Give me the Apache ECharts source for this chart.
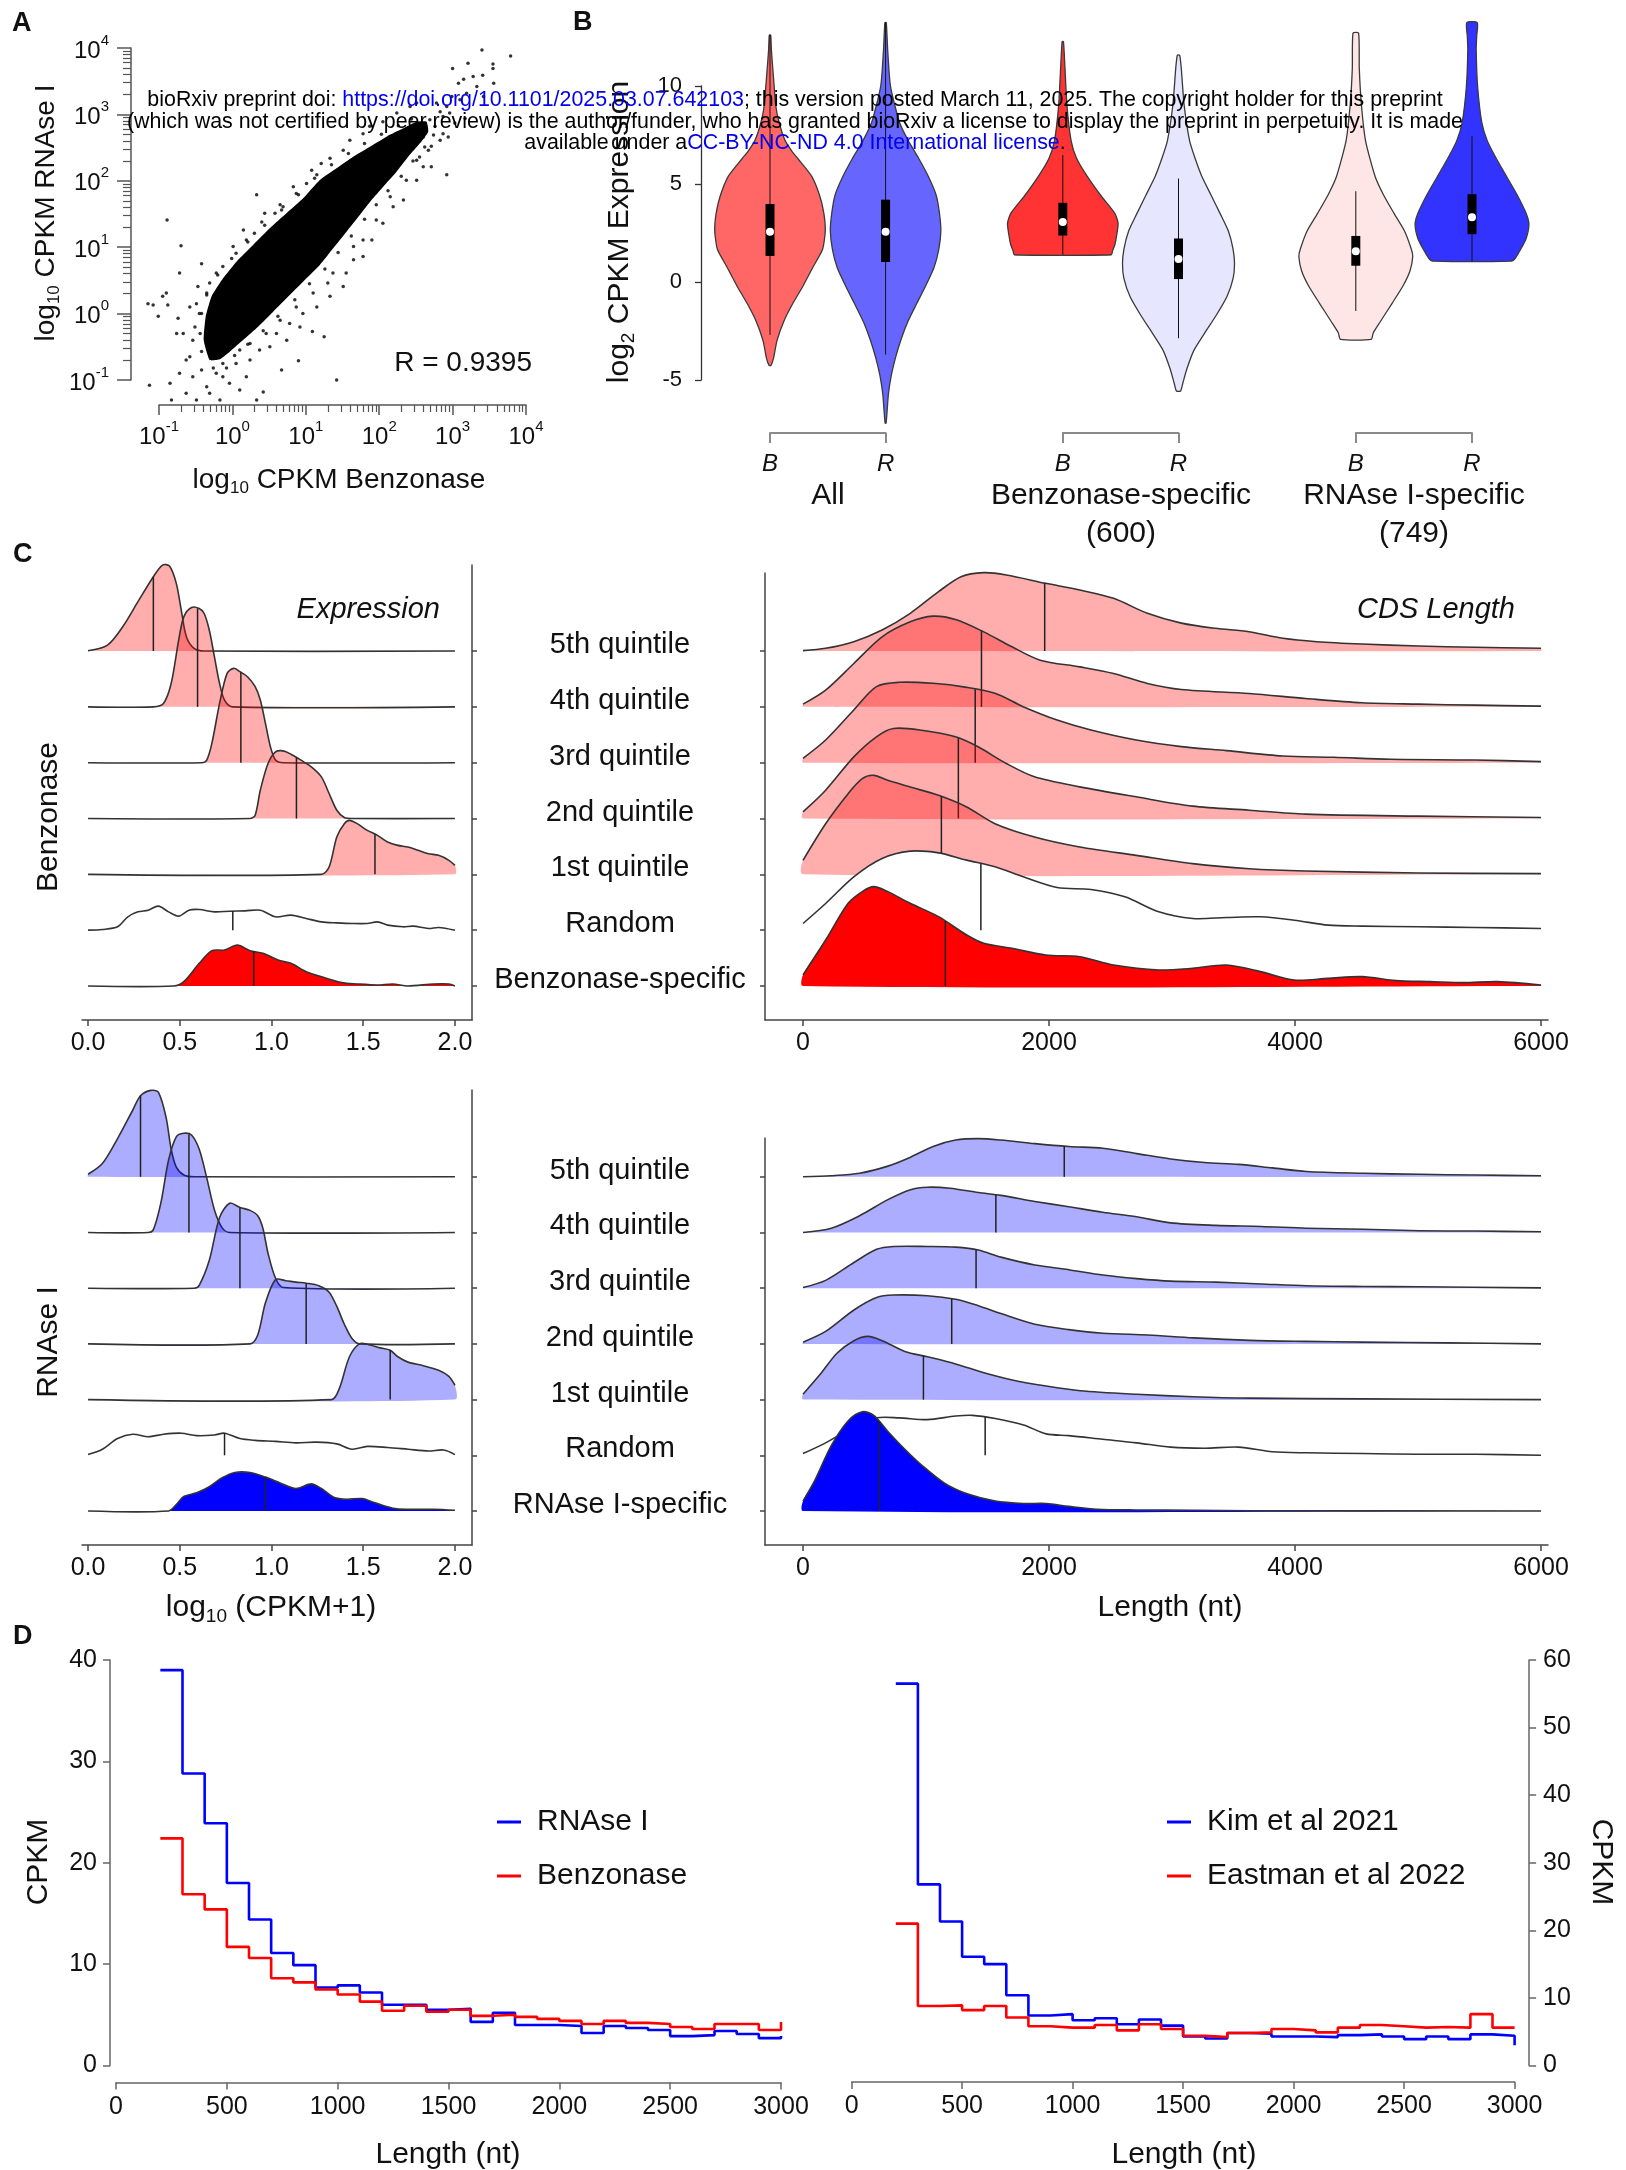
<!DOCTYPE html>
<html><head><meta charset="utf-8">
<script src="https://cdn.jsdelivr.net/npm/echarts@6/dist/echarts.min.js"></script>
<style>html,body{margin:0;padding:0;background:#fff}#c{width:1626px;height:2170px}</style>
</head><body><div id="c"></div>
<script>
// ================= DATA =================
// Panel A (log10 units): outline of the saturated dense core of the scatter cloud, and the sparse points around it
const scatterCoreLog = [[-0.309,-0.699],[-0.391,-0.398],[-0.364,-0.046],[-0.286,0.255],[-0.127,0.531],[0.055,0.782],[0.282,1.033],[0.509,1.284],[0.736,1.510],[0.964,1.736],[1.191,2.012],[1.418,2.188],[1.645,2.363],[1.873,2.514],[2.100,2.665],[2.327,2.790],[2.509,2.891],[2.645,2.891],[2.668,2.740],[2.555,2.564],[2.395,2.363],[2.236,2.138],[2.055,1.912],[1.895,1.711],[1.736,1.485],[1.555,1.234],[1.373,0.983],[1.191,0.732],[0.986,0.506],[0.782,0.280],[0.555,0.029],[0.350,-0.197],[0.145,-0.398],[-0.036,-0.573],[-0.173,-0.689]];
const scatterPointsLog = [
[3.40,3.97],[3.79,3.88],[3.21,3.77],[3.55,3.76],[3.55,3.69],[3.00,3.69],[3.41,3.59],[3.28,3.57],[3.15,3.53],[3.08,3.47],[3.56,3.47],[3.33,3.42],[3.19,3.32],[2.99,3.27],[3.10,3.22],[2.92,3.12],[2.83,3.04],[3.42,3.27],[3.17,2.94],[3.03,2.87],[2.87,2.71],[2.94,2.66],[2.83,2.61],[2.71,2.52],[2.92,2.09],[2.60,2.21],[2.51,2.31],[2.42,2.46],[2.71,2.21],[2.60,2.66],[2.76,2.82],[2.69,2.92],[2.87,2.97],[2.96,3.02],[2.78,3.17],[2.55,2.77],
[-0.89,1.41],[-0.70,1.02],[-0.72,0.61],[-0.42,0.75],[0.33,1.79],[0.44,1.51],[0.58,1.51],[0.69,1.61],[0.83,1.91],[1.08,2.16],[1.21,2.26],[1.33,2.34],[1.51,2.46],[1.60,2.61],[1.78,2.71],[1.87,2.82],[2.05,2.89],[2.24,3.02],[2.42,3.12],[2.51,3.17],[0.01,1.01],[0.15,1.26],[0.30,1.21],[-0.22,0.61],[-0.31,0.46],[-0.47,0.41],[0.05,0.91],[-0.13,0.71],[-0.35,0.31],[-0.49,0.15],[-0.45,0.00],[-0.58,0.10],[0.19,1.11],[0.40,1.38],[0.65,1.64],[0.87,1.81],[1.01,1.96],[1.15,2.09],
[-1.15,0.15],[-1.08,0.13],[-0.90,0.31],[-0.95,0.26],[-0.88,0.13],[-1.01,-0.04],[-0.74,-0.07],[-0.76,-0.30],[-0.67,-0.30],[-0.51,-0.20],[-0.54,-0.40],[-0.42,-0.57],[-0.58,-0.65],[-0.72,-0.90],[-1.13,-1.08],[-0.83,-1.30],[-0.63,-1.20],[-0.49,-1.30],[-0.35,-1.10],[-0.31,-1.20],[-0.22,-0.90],[-0.13,-0.95],[-0.04,-1.05],[0.10,-1.15],[0.19,-0.95],[0.33,-1.30],[0.42,-1.18],[-0.17,-1.30],[-0.42,-0.85],[-0.26,-0.82],[-0.08,-0.82],[0.05,-0.75],[0.24,-0.70],[-0.63,-0.70],[-0.54,-0.95],[-0.85,-1.05],
[1.42,-1.00],[0.90,-0.71],[0.67,-0.85],[1.09,-0.27],[1.25,-0.35],[0.92,-0.20],[0.74,-0.40],[0.60,-0.30],[0.51,-0.50],[0.37,-0.55],[1.33,0.26],[1.51,0.41],[1.65,0.81],[1.78,0.86],[1.90,1.11],[2.05,1.36],[2.19,1.61],[2.33,1.71],[2.51,2.01],[1.15,0.10],[0.96,0.00],[0.78,-0.15],[1.30,0.46],[1.55,0.61],[1.78,1.11],[1.96,1.41],[2.15,1.76],[2.37,2.01],[2.55,2.36],[2.67,2.46],[1.65,1.01],[1.37,0.61],[1.10,0.31],[0.87,0.10],[0.65,-0.10],[0.46,-0.30],[0.24,-0.45],[0.10,-0.55],
[-0.44,-0.30],[-0.42,0.00],[-0.35,0.28],[-0.20,0.58],[-0.01,0.83],[0.21,1.08],[0.44,1.33],[0.67,1.56],[0.90,1.79],[1.12,2.04],[1.35,2.24],[1.58,2.41],[1.80,2.56],[2.03,2.70],[2.26,2.83],[2.44,2.93],
[2.74,2.69],[2.62,2.51],[2.46,2.30],[2.30,2.07],[2.12,1.85],[1.96,1.64],[1.80,1.42],[1.62,1.17],[1.44,0.92],[1.26,0.67],[1.05,0.45],[0.85,0.21],[0.62,-0.04],[0.42,-0.26],[0.21,-0.46],[0.03,-0.63],[-0.13,-0.75]];
const scatterR = 'R = 0.9395';

// Panel B: violins as [log2 value, half-width] pairs; box stats [whiskerLow, Q1, median, Q3, whiskerHigh]
const violinGroups = [['All'], ['Benzonase-specific','(600)'], ['RNAse I-specific','(749)']];
const violinSides = ['B','R'];
const vAllB = [[12.6,0.006],[11.85,0.012],[10.9,0.024],[10.0,0.036],[9.07,0.048],[8.15,0.078],[7.2,0.132],[6.67,0.19],[6.3,0.24],[5.4,0.36],[4.4,0.43],[3.5,0.466],[2.6,0.478],[1.67,0.455],[0.74,0.37],[-0.19,0.287],[-1.1,0.197],[-2.0,0.12],[-3.0,0.06],[-3.9,0.03],[-4.26,0.008]];
const vAllR = [[13.24,0.006],[11.85,0.018],[10.0,0.042],[8.15,0.12],[7.2,0.197],[6.3,0.287],[5.37,0.371],[4.44,0.437],[3.5,0.466],[2.6,0.478],[1.67,0.46],[0.74,0.419],[-0.19,0.347],[-1.1,0.269],[-2.04,0.191],[-2.96,0.132],[-3.9,0.084],[-4.8,0.048],[-5.74,0.024],[-6.67,0.012],[-7.2,0.004]];
const vBenzB = [[12.26,0.006],[11.0,0.018],[9.0,0.036],[7.2,0.072],[6.3,0.12],[5.4,0.21],[4.4,0.33],[3.5,0.45],[3.0,0.478],[2.4,0.466],[1.9,0.45],[1.6,0.43],[1.39,0.42]];
const vBenzR = [[11.57,0.01],[10.9,0.024],[9.07,0.048],[7.2,0.096],[6.3,0.144],[5.37,0.203],[4.44,0.281],[3.5,0.359],[2.6,0.431],[1.67,0.472],[0.93,0.484],[0.19,0.472],[-0.74,0.419],[-1.67,0.329],[-2.6,0.227],[-3.5,0.132],[-4.44,0.072],[-5.19,0.036],[-5.56,0.018]];
const vRnaseB = [[12.7,0.024],[10.9,0.03],[9.07,0.048],[7.2,0.084],[5.37,0.167],[4.44,0.239],[3.5,0.329],[2.6,0.419],[1.67,0.478],[1.3,0.49],[0.56,0.466],[-0.19,0.407],[-1.1,0.311],[-2.04,0.209],[-2.6,0.15],[-2.93,0.132]];
const vRnaseR = [[13.24,0.045],[12.5,0.04],[11.85,0.036],[10.0,0.048],[8.15,0.084],[7.2,0.132],[6.3,0.209],[5.37,0.299],[4.44,0.389],[3.5,0.466],[2.96,0.49],[2.22,0.466],[1.67,0.419],[1.2,0.371],[1.07,0.341]];
const violinStats = [[-2.7,1.33,2.56,3.98,12.6],[-3.7,1.02,2.56,4.2,13.24],[1.39,2.37,3.06,4.04,6.48],[-2.87,0.15,1.17,2.22,5.28],[-1.48,0.83,1.57,2.35,4.63],[1.07,2.44,3.3,4.48,7.44]];

// Panel C: ridgelines. Row 0 = specific, 1 = Random, 2..6 = 1st..5th quintile. Heights in row units.
const benzRowLabels = ['Benzonase-specific','Random','1st quintile','2nd quintile','3rd quintile','4th quintile','5th quintile'];
const rnaseRowLabels = ['RNAse I-specific','Random','1st quintile','2nd quintile','3rd quintile','4th quintile','5th quintile'];
const exprTicks = [0, 0.5, 1, 1.5, 2];
const cdsTicks = [0, 2000, 4000, 6000];

const benzExprX = [
 [0,.467,.522,.606,.675,.744,.814,.883,.953,1.036,1.106,1.189,1.272,1.383,1.467,1.578,1.661,1.744,1.883,1.967,2.0],
 [0,.078,.161,.217,.272,.328,.383,.439,.494,.550,.606,.689,.772,.856,.939,1.022,1.106,1.189,1.272,1.356,1.439,1.522,1.578,1.633,1.717,1.772,1.856,1.911,2.0],
 [0,1.272,1.314,1.356,1.397,1.425,1.467,1.522,1.578,1.633,1.689,1.744,1.8,1.856,1.911,1.967,2.0],
 [0,.883,.911,.939,.981,1.022,1.064,1.106,1.161,1.217,1.272,1.314,1.356,1.397,1.439,2.0],
 [0,.619,.647,.675,.717,.758,.794,.828,.869,.911,.939,.967,.994,1.022,1.064,2.0],
 [0,.356,.411,.453,.494,.522,.564,.606,.633,.661,.689,.717,.744,.786,2.0],
 [0,.106,.189,.272,.356,.406,.444,.481,.508,.536,.578,.633,2.0]];
const benzExprH = [
 [0,0,.078,.406,.633,.645,.734,.633,.585,.466,.406,.257,.167,.060,.036,.018,.036,0,.036,.036,0],
 [0,.012,.060,.239,.328,.358,.430,.328,.251,.358,.370,.328,.340,.346,.358,.239,.269,.209,.149,.131,.119,.119,.149,.090,.060,.072,.030,.048,0],
 [0,0,.131,.669,.908,.967,.908,.788,.699,.579,.519,.490,.430,.370,.340,.251,.161],
 [0,0,.060,.507,.985,1.194,1.212,1.152,1.045,.925,.746,.448,.149,.018,0,0],
 [0,0,.048,.346,1.063,1.600,1.690,1.630,1.540,1.361,1.122,.704,.287,.048,0,0],
 [0,0,.060,.418,1.194,1.612,1.779,1.761,1.672,1.373,.896,.418,.119,0,0],
 [.006,.107,.436,.884,1.331,1.54,1.522,1.212,.734,.257,.048,0,0]];
const benzExprMed = [.903,.789,1.564,1.136,.833,.597,.356];

const benzCdsX = [
 [0,184,367,482,574,689,872,1102,1331,1469,1699,1974,2250,2525,2892,3168,3443,3719,3994,4270,4545,4821,5096,5372,5647,6000],
 [0,184,413,643,872,1102,1331,1561,1790,2066,2341,2617,2892,3168,3443,3719,3994,4270,4545,5004,5463,6000],
 [0,184,367,482,574,689,872,1102,1331,1561,1882,2250,2709,3168,3627,4086,5004,6000],
 [0,184,413,597,735,964,1240,1423,1653,1882,2250,2709,3168,3627,4086,5004,6000],
 [0,184,413,597,781,1056,1331,1561,1790,2066,2341,2709,3076,3443,3902,4316,4775,5463,6000],
 [0,184,413,643,872,1056,1240,1469,1699,1928,2250,2525,2800,3076,3627,4086,4545,5004,5463,6000],
 [0,184,413,643,872,1102,1285,1469,1653,1974,2250,2525,2800,3076,3351,3627,3902,4178,4545,5004,5463,6000]];
const benzCdsH = [
 [.197,.824,1.481,1.690,1.779,1.690,1.481,1.242,.913,.764,.675,.555,.525,.376,.287,.316,.376,.257,.107,.137,.167,.096,.078,.060,.078,.018],
 [.119,.478,.955,1.284,1.415,1.385,1.254,1.134,.955,.764,.728,.597,.328,.209,.227,.239,.179,.090,.072,.060,.048,.030],
 [.251,.907,1.445,1.713,1.773,1.684,1.564,1.415,1.206,.907,.669,.490,.340,.191,.101,.060,.024,.012],
 [.119,.507,1.104,1.463,1.612,1.582,1.463,1.284,.985,.746,.567,.388,.221,.149,.078,.042,.018],
 [.078,.406,.943,1.361,1.439,1.421,1.349,1.242,1.003,.764,.585,.406,.287,.215,.119,.096,.060,.048,.018],
 [.048,.299,.776,1.254,1.522,1.624,1.564,1.343,1.075,.836,.716,.597,.418,.310,.239,.149,.072,.048,.030,.012],
 [.006,.048,.167,.376,.675,1.063,1.331,1.403,1.361,1.212,1.093,.943,.675,.499,.406,.346,.227,.167,.125,.090,.066,.048]];
const benzCdsMed = [1157,1446,1125,1263,1400,1451,1965];

const rnaseExprX = [
 [0,.439,.481,.522,.592,.661,.731,.8,.883,.967,1.05,1.133,1.217,1.272,1.342,1.411,1.494,1.564,1.661,1.744,1.883,2],
 [0,.078,.161,.244,.328,.411,.508,.592,.689,.744,.828,.911,1.022,1.133,1.244,1.356,1.439,1.522,1.633,1.744,1.856,1.939,2],
 [0,1.328,1.369,1.425,1.481,1.536,1.592,1.647,1.689,1.744,1.828,1.911,1.967,2],
 [0,.883,.925,.967,1.022,1.078,1.133,1.189,1.258,1.314,1.356,1.397,1.439,1.481,2],
 [0,.578,.606,.661,.717,.772,.828,.883,.925,.953,.981,1.022,1.064,2],
 [0,.328,.356,.397,.439,.481,.522,.564,.606,.647,.689,.731,.772,2],
 [0,.078,.161,.244,.286,.342,.383,.425,.453,.481,.522,.578,2]];
const rnaseExprH = [
 [0,0,.115,.263,.327,.436,.596,.692,.692,.609,.5,.404,.487,.404,.244,.212,.224,.147,.051,.032,.032,.013],
 [.013,.109,.301,.378,.333,.378,.397,.353,.365,.397,.301,.269,.25,.224,.237,.205,.109,.160,.141,.109,.077,.096,.013],
 [0,0,.192,.769,1.006,.981,.929,.885,.769,.673,.609,.526,.417,.256],
 [0,0,.160,.737,1.154,1.135,1.109,1.090,1.045,.929,.673,.353,.096,0,0],
 [0,0,.051,.5,1.269,1.526,1.449,1.397,1.301,1.077,.628,.179,.013,0],
 [0,0,.051,.532,1.301,1.718,1.782,1.750,1.494,.981,.404,.083,0,0],
 [.045,.237,.686,1.199,1.455,1.551,1.519,1.071,.494,.173,.032,0,0]];
const rnaseExprMed = [.967,.744,1.647,1.189,.828,.55,.286];

const rnaseCdsX = [
 [0,92,230,368,483,575,690,828,966,1150,1334,1563,1793,1977,2161,2391,2713,3173,3633,6000],
 [0,184,414,598,782,1012,1241,1379,1563,1793,1977,2161,2437,2713,2989,3265,3541,3816,4092,4552,5012,5472,6000],
 [0,138,276,414,529,644,828,1012,1241,1471,1701,1977,2253,2713,3173,3633,4552,6000],
 [0,184,414,598,736,1012,1241,1425,1609,1885,2161,2437,2805,3173,3633,4092,4552,5242,6000],
 [0,184,414,598,736,1012,1241,1425,1609,1885,2161,2437,2713,2989,3357,3725,4092,4552,5012,6000],
 [0,230,460,690,874,1012,1195,1425,1609,1885,2161,2437,2713,2989,3357,3725,4092,4552,5012,5472,6000],
 [0,230,460,690,874,1058,1241,1425,1609,1885,2161,2437,2713,2989,3265,3541,3816,4092,4552,5012,5472,6000]];
const rnaseCdsH = [
 [.179,.532,1.173,1.622,1.782,1.718,1.429,1.109,.821,.5,.308,.179,.135,.135,.083,.032,.019,.013,.006,0],
 [.032,.224,.513,.673,.673,.641,.705,.718,.660,.545,.385,.353,.288,.224,.147,.128,.147,.064,.045,.032,.019,.019,0],
 [.096,.449,.833,1.058,1.135,1.058,.865,.769,.641,.481,.353,.244,.160,.096,.051,.026,.013,0],
 [.032,.224,.609,.833,.878,.865,.801,.686,.545,.353,.256,.192,.160,.109,.064,.045,.032,.019,0],
 [.013,.141,.462,.699,.75,.75,.737,.686,.558,.417,.333,.237,.173,.128,.109,.077,.045,.032,.026,.006],
 [0,.077,.301,.590,.769,.814,.795,.718,.667,.558,.462,.365,.282,.173,.128,.109,.077,.058,.032,.026,.013],
 [0,.019,.064,.192,.353,.545,.660,.686,.660,.596,.545,.513,.417,.321,.256,.224,.160,.096,.064,.045,.032,.019]];
const rnaseCdsMed = [621,1481,979,1209,1407,1568,2124];

// Panel D: CPKM per 100-nt length bin (bin start in nt)
const lenBins = [200,300,400,500,600,700,800,900,1000,1100,1200,1300,1400,1500,1600,1700,1800,1900,2000,2100,2200,2300,2400,2500,2600,2700,2800,2900,3000];
const rnaseCpkm = [39.0,28.8,23.9,18.0,14.4,11.1,9.9,7.7,7.9,7.2,6.0,6.0,5.5,5.6,4.3,5.2,4.0,4.0,3.9,3.2,3.9,3.7,3.5,2.9,3.0,3.4,3.1,2.7,2.9];
const benzCpkm = [22.4,16.9,15.4,11.7,10.6,8.6,8.2,7.5,7.0,6.3,5.4,5.9,5.3,5.5,4.9,5.0,4.8,4.6,4.4,4.1,4.4,4.2,4.1,3.8,3.6,4.1,4.1,3.5,4.3];
const kimCpkm = [56.5,26.8,21.3,16.1,15.0,10.4,7.4,7.6,6.7,7.0,6.1,6.8,5.9,4.3,4.0,4.8,4.7,4.3,4.3,4.2,4.5,4.6,4.3,3.9,4.3,3.9,4.6,4.4,3.0];
const eastmanCpkm = [21.0,8.8,8.9,8.2,8.8,7.1,5.8,5.6,5.6,6.0,5.2,6.1,5.4,4.4,4.2,4.8,4.9,5.4,5.2,4.9,5.6,6.0,5.8,5.6,5.7,5.6,7.6,5.6,5.5];

// ================= STYLE / LAYOUT =================
const FONT = '"Liberation Sans", Arial, Helvetica, sans-serif';
const TXT = '#111';
const violinShapes = [vAllB, vAllR, vBenzB, vBenzR, vRnaseB, vRnaseR];
const violinFills = ['#FF6666','#6666FF','#FF3333','#E6E6FF','#FFE6E6','#3333FF'];
const rowIdx = [0,1,2,3,4,5,6];
const logMinor = [];
for (let d = -1; d < 4; d++) for (let k = 2; k <= 9; k++) logMinor.push(d + Math.log10(k));

const powRich = {
  b:{fontSize:24, lineHeight:30, color:TXT, fontFamily:FONT, verticalAlign:'bottom'},
  s:{fontSize:15, lineHeight:16, color:TXT, fontFamily:FONT, verticalAlign:'top'}
};
const pow10Label = v => '{b|10}{s|' + v + '}';

function cX(g, mn, mx, ticks, fmt) {
  return {gridIndex:g, type:'value', position:'bottom', min:mn, max:mx, splitLine:{show:false},
    axisLine:{onZero:false, lineStyle:{color:'#444', width:1.5}},
    axisTick:{customValues:ticks, length:6, lineStyle:{color:'#444', width:1.5}},
    axisLabel:{customValues:ticks, margin:11, fontSize:25, color:TXT, fontFamily:FONT, formatter:fmt}};
}
function cY(g, pos, mn, mx, labels) {
  return {gridIndex:g, type:'value', position:pos, min:mn, max:mx, splitLine:{show:false},
    axisLine:{onZero:false, lineStyle:{color:'#444', width:1.5}},
    axisTick:{customValues:rowIdx, length:5, lineStyle:{color:'#444', width:1.5}},
    axisLabel: labels ? {customValues:rowIdx, margin:148, align:'center', verticalAlign:'bottom', lineHeight:12,
      fontSize:29, color:TXT, fontFamily:FONT, formatter: v => labels[Math.round(v)]} : {show:false}};
}

function ridgeSeries(ax, xs, hs, meds, fills) {
  const order = [6,5,4,3,2,1,0];
  return {type:'custom', xAxisIndex:ax, yAxisIndex:ax, clip:false, silent:true,
    data: order.map(r => [0, r]),
    renderItem: function (params, api) {
      const r = order[params.dataIndex];
      const X = xs[r], H = hs[r];
      const pts = X.map((x, i) => api.coord([x, r + H[i]]));
      const poly = [api.coord([X[0], r])].concat(pts).concat([api.coord([X[X.length - 1], r])]);
      const m = meds[r];
      let hm = 0;
      for (let i = 0; i < X.length - 1; i++) {
        if (m >= X[i] && m <= X[i + 1]) { hm = H[i] + (H[i + 1] - H[i]) * (m - X[i]) / (X[i + 1] - X[i]); break; }
      }
      const mb = api.coord([m, r]), mt = api.coord([m, r + hm]);
      return {type:'group', children:[
        {type:'polygon', shape:{points:poly, smooth:0.3}, style:{fill:fills[r], stroke:null}},
        {type:'polyline', shape:{points:pts, smooth:0.3}, style:{stroke:'#333', lineWidth:1.6, fill:null}},
        {type:'line', shape:{x1:mb[0], y1:mb[1], x2:mt[0], y2:mt[1]}, style:{stroke:'#222', lineWidth:1.5}}
      ]};
    }};
}

function violinSeries(g) {
  return {type:'custom', xAxisIndex:3 + g, yAxisIndex:3 + g, clip:false, silent:true,
    data:[[1, 0], [2, 0]],
    renderItem: function (params, api) {
      const k = 2 * g + params.dataIndex, c = params.dataIndex + 1;
      const shp = violinShapes[k];
      const right = shp.map(p => api.coord([c + p[1], p[0]]));
      const left = shp.slice().reverse().map(p => api.coord([c - p[1], p[0]]));
      const s = violinStats[k];
      const wl = api.coord([c, s[0]]), q1 = api.coord([c, s[1]]), md = api.coord([c, s[2]]), q3 = api.coord([c, s[3]]), wh = api.coord([c, s[4]]);
      return {type:'group', children:[
        {type:'polygon', shape:{points:right.concat(left), smooth:0.2}, style:{fill:violinFills[k], stroke:'#3a3a3a', lineWidth:1.3}},
        {type:'line', shape:{x1:wl[0], y1:wl[1], x2:wh[0], y2:wh[1]}, style:{stroke:'#111', lineWidth:1}},
        {type:'rect', shape:{x:q3[0] - 4.5, y:q3[1], width:9, height:q1[1] - q3[1]}, style:{fill:'#000'}},
        {type:'circle', shape:{cx:md[0], cy:md[1], r:4}, style:{fill:'#fff'}}
      ]};
    }};
}

function dLine(name, vals, color, ax) {
  return {name:name, type:'line', xAxisIndex:ax, yAxisIndex:ax, step:'end', symbol:'none', showSymbol:false, silent:true,
    data: lenBins.map((x, i) => [x, vals[i]]), lineStyle:{color:color, width:2.6}, itemStyle:{color:color}};
}

function T(x, y, text, o) {
  o = o || {};
  return {type:'text', x:x, y:y, z:60, rotation:o.rotation || 0,
    style:{text:text, fill:o.fill || TXT, fontFamily:FONT, fontSize:o.fontSize || 28, fontWeight:o.fontWeight || 'normal',
      fontStyle:o.fontStyle || 'normal', align:o.align || 'center', verticalAlign:'middle', rich:o.rich}};
}
const subRich = fs => ({
  n:{fontSize:fs, lineHeight:fs + 6, fill:TXT, fontFamily:FONT},
  sub:{fontSize:Math.round(fs * 0.62), lineHeight:12, fill:TXT, fontFamily:FONT, verticalAlign:'bottom'}
});
const WMF = 21.4;
const wmRich = {
  k:{fill:'#000', fontSize:WMF, fontFamily:FONT},
  u:{fill:'#0000EE', fontSize:WMF, fontFamily:FONT}
};

const dXAxis = (g, off) => ({gridIndex:g, type:'value', position:'bottom', min:0, max:3000, interval:500, offset:off, splitLine:{show:false},
  axisLine:{onZero:false, lineStyle:{color:'#666', width:1.5}}, axisTick:{length:7, lineStyle:{color:'#666', width:1.5}},
  axisLabel:{margin:12, fontSize:25, color:TXT, fontFamily:FONT, formatter: v => String(v)}});

const option = {
  animation:false,
  backgroundColor:'#ffffff',
  textStyle:{fontFamily:FONT},
  grid:[
    {left:159, top:48, width:367, height:332},
    {left:701, top:86, width:10, height:294},
    {left:770, top:86, width:115.6, height:294},
    {left:1062.8, top:86, width:115.7, height:294},
    {left:1355.8, top:86, width:116.2, height:294},
    {left:82, top:565, width:390, height:455},
    {left:765, top:573, width:783, height:447},
    {left:82, top:1090, width:390, height:455},
    {left:765, top:1138, width:783, height:407},
    {left:116, top:1660, width:665, height:405.5},
    {left:851.6, top:1660, width:663, height:405.5}
  ],
  xAxis:[
    {gridIndex:0, type:'value', position:'bottom', min:-1, max:4, interval:1, offset:25, splitLine:{show:false},
      axisLine:{onZero:false, lineStyle:{color:'#555', width:1.5}}, axisTick:{length:10, lineStyle:{color:'#555', width:1.5}},
      axisLabel:{margin:14, formatter:pow10Label, rich:powRich}},
    {gridIndex:0, type:'value', position:'bottom', min:-1, max:4, offset:25, splitLine:{show:false}, axisLine:{show:false, onZero:false},
      axisLabel:{show:false}, axisTick:{show:true, customValues:logMinor, length:7, lineStyle:{color:'#555', width:1.2}}},
    {gridIndex:1, type:'value', show:false, min:0, max:1},
    ...[2, 3, 4].map(g => ({gridIndex:g, type:'value', position:'bottom', min:1, max:2, interval:1, offset:53, splitLine:{show:false},
      axisLine:{onZero:false, lineStyle:{color:'#8a8a8a', width:2}}, axisTick:{length:10, lineStyle:{color:'#8a8a8a', width:2}},
      axisLabel:{margin:19, fontSize:24, fontStyle:'italic', color:TXT, fontFamily:FONT, formatter: v => violinSides[Math.round(v) - 1]}})),
    cX(5, -0.033, 2.093, exprTicks, v => v.toFixed(1)),
    cX(6, -309, 6057, cdsTicks, v => String(v)),
    cX(7, -0.033, 2.093, exprTicks, v => v.toFixed(1)),
    cX(8, -309, 6057, cdsTicks, v => String(v)),
    dXAxis(9, 17),
    dXAxis(10, 16.5)
  ],
  yAxis:[
    {gridIndex:0, type:'value', position:'left', min:-1, max:4, interval:1, offset:28, splitLine:{show:false},
      axisLine:{onZero:false, lineStyle:{color:'#555', width:1.5}}, axisTick:{length:14, lineStyle:{color:'#555', width:1.5}},
      axisLabel:{margin:22, formatter:pow10Label, rich:powRich}},
    {gridIndex:0, type:'value', position:'left', min:-1, max:4, offset:28, splitLine:{show:false}, axisLine:{show:false, onZero:false},
      axisLabel:{show:false}, axisTick:{show:true, customValues:logMinor, length:8, lineStyle:{color:'#555', width:1.2}}},
    {gridIndex:1, type:'value', position:'left', min:-5, max:10, interval:5, splitLine:{show:false},
      axisLine:{onZero:false, lineStyle:{color:'#333', width:1.3}}, axisTick:{length:6, lineStyle:{color:'#333', width:1.3}},
      axisLabel:{margin:19, fontSize:22, color:TXT, fontFamily:FONT}},
    ...[2, 3, 4].map(g => ({gridIndex:g, type:'value', show:false, min:-5, max:10})),
    cY(5, 'right', -0.609, 7.541, benzRowLabels),
    cY(6, 'left', -0.609, 7.397, null),
    cY(7, 'right', -0.610, 7.558, rnaseRowLabels),
    cY(8, 'left', -0.610, 6.697, null),
    {gridIndex:9, type:'value', position:'left', min:0, max:40, interval:10, offset:6, splitLine:{show:false},
      axisLine:{onZero:false, lineStyle:{color:'#666', width:1.5}}, axisTick:{length:7, lineStyle:{color:'#666', width:1.5}},
      axisLabel:{margin:13, fontSize:25, color:TXT, fontFamily:FONT}},
    {gridIndex:10, type:'value', position:'right', min:0, max:60, interval:10, offset:14.5, splitLine:{show:false},
      axisLine:{onZero:false, lineStyle:{color:'#666', width:1.5}}, axisTick:{length:7, lineStyle:{color:'#666', width:1.5}},
      axisLabel:{margin:14, fontSize:25, color:TXT, fontFamily:FONT}}
  ],
  legend:[
    {data:['RNAse I','Benzonase'], orient:'vertical', left:492, top:1802, icon:'rect', itemWidth:24, itemHeight:3, itemGap:24,
      selectedMode:false, textStyle:{fontSize:30, lineHeight:28, color:TXT, fontFamily:FONT, padding:[0,0,0,11]}},
    {data:['Kim et al 2021','Eastman et al 2022'], orient:'vertical', left:1162, top:1802, icon:'rect', itemWidth:24, itemHeight:3, itemGap:24,
      selectedMode:false, textStyle:{fontSize:30, lineHeight:28, color:TXT, fontFamily:FONT, padding:[0,0,0,11]}}
  ],
  graphic:{elements:[
    T(12, 24, 'A', {fontWeight:'bold', fontSize:27, align:'left'}),
    T(573, 23, 'B', {fontWeight:'bold', fontSize:27, align:'left'}),
    T(13, 555, 'C', {fontWeight:'bold', fontSize:27, align:'left'}),
    T(13, 1637, 'D', {fontWeight:'bold', fontSize:27, align:'left'}),
    T(339, 480, '{n|log}{sub|10}{n| CPKM Benzonase}', {rich:subRich(28)}),
    T(46, 213, '{n|log}{sub|10}{n| CPKM RNAse I}', {rich:subRich(28), rotation:Math.PI / 2}),
    T(532, 363, scatterR, {align:'right', fontSize:28}),
    T(620, 232, '{n|log}{sub|2}{n| CPKM Expression}', {rich:subRich(30), rotation:Math.PI / 2}),
    T(828, 496, violinGroups[0][0], {fontSize:30}),
    T(1121, 496, violinGroups[1][0], {fontSize:30}),
    T(1121, 534, violinGroups[1][1], {fontSize:30}),
    T(1414, 496, violinGroups[2][0], {fontSize:30}),
    T(1414, 534, violinGroups[2][1], {fontSize:30}),
    T(440, 610, 'Expression', {align:'right', fontStyle:'italic', fontSize:29}),
    T(1515, 610, 'CDS Length', {align:'right', fontStyle:'italic', fontSize:29}),
    T(49, 817, 'Benzonase', {rotation:Math.PI / 2, fontSize:30}),
    T(49, 1342, 'RNAse I', {rotation:Math.PI / 2, fontSize:30}),
    T(271, 1608, '{n|log}{sub|10}{n| (CPKM+1)}', {rich:subRich(30)}),
    T(1170, 1608, 'Length (nt)', {fontSize:30}),
    T(39, 1862, 'CPKM', {rotation:Math.PI / 2, fontSize:30}),
    T(1601, 1862, 'CPKM', {rotation:-Math.PI / 2, fontSize:30}),
    T(448, 2155, 'Length (nt)', {fontSize:30}),
    T(1184, 2155, 'Length (nt)', {fontSize:30}),
    T(795, 100, '{k|bioRxiv preprint doi: }{u|https://doi.org/10.1101/2025.03.07.642103}{k|; this version posted March 11, 2025. The copyright holder for this preprint}', {rich:wmRich, fontSize:WMF}),
    T(795, 122, '{k|(which was not certified by peer review) is the author/funder, who has granted bioRxiv a license to display the preprint in perpetuity. It is made}', {rich:wmRich, fontSize:WMF}),
    T(795, 143, '{k|available under a}{u|CC-BY-NC-ND 4.0 International license}{k|.}', {rich:wmRich, fontSize:WMF})
  ]},
  series:[
    {type:'custom', xAxisIndex:0, yAxisIndex:0, clip:false, silent:true, data:[[0, 0]],
      renderItem:(p, api) => ({type:'polygon', shape:{points:scatterCoreLog.map(q => api.coord(q)), smooth:0.15}, style:{fill:'#000'}})},
    {type:'scatter', xAxisIndex:0, yAxisIndex:0, clip:false, silent:true, symbolSize:3.5, itemStyle:{color:'#000'}, data:scatterPointsLog},
    violinSeries(0), violinSeries(1), violinSeries(2),
    ridgeSeries(6, benzExprX, benzExprH, benzExprMed, ['#FF0000','#FFFFFF','rgba(255,0,0,0.32)','rgba(255,0,0,0.32)','rgba(255,0,0,0.32)','rgba(255,0,0,0.32)','rgba(255,0,0,0.32)']),
    ridgeSeries(7, benzCdsX, benzCdsH, benzCdsMed, ['#FF0000','#FFFFFF','rgba(255,0,0,0.32)','rgba(255,0,0,0.32)','rgba(255,0,0,0.32)','rgba(255,0,0,0.32)','rgba(255,0,0,0.32)']),
    ridgeSeries(8, rnaseExprX, rnaseExprH, rnaseExprMed, ['#0000FF','#FFFFFF','rgba(0,0,255,0.32)','rgba(0,0,255,0.32)','rgba(0,0,255,0.32)','rgba(0,0,255,0.32)','rgba(0,0,255,0.32)']),
    ridgeSeries(9, rnaseCdsX, rnaseCdsH, rnaseCdsMed, ['#0000FF','#FFFFFF','rgba(0,0,255,0.32)','rgba(0,0,255,0.32)','rgba(0,0,255,0.32)','rgba(0,0,255,0.32)','rgba(0,0,255,0.32)']),
    dLine('RNAse I', rnaseCpkm, '#0000FF', 10),
    dLine('Benzonase', benzCpkm, '#FF0000', 10),
    dLine('Kim et al 2021', kimCpkm, '#0000FF', 11),
    dLine('Eastman et al 2022', eastmanCpkm, '#FF0000', 11)
  ]
};
const chart = echarts.init(document.getElementById('c'), null, {renderer:'canvas', width:1626, height:2170});
chart.setOption(option);
</script></body></html>
